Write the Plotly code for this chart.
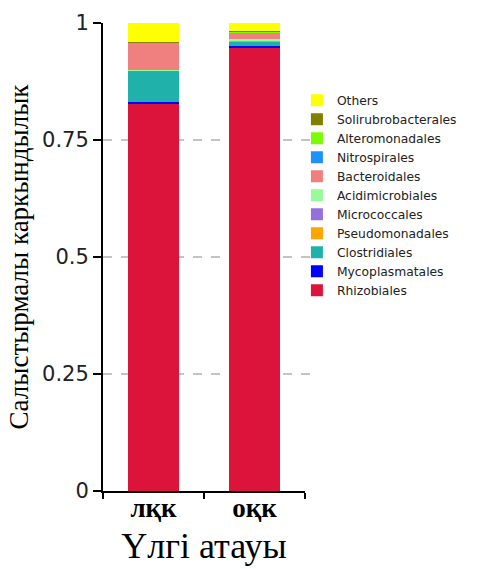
import plotly.graph_objects as go

samples = ["лқк", "оқк"]
orders = ["Rhizobiales", "Mycoplasmatales", "Clostridiales", "Pseudomonadales",
          "Micrococcales", "Acidimicrobiales", "Bacteroidales", "Nitrospirales",
          "Alteromonadales", "Solirubrobacterales", "Others"]
rhizobiales = [0.829, 0.948]
mycoplasmatales = [0.003, 0.003]
clostridiales = [0.066, 0.009]
pseudomonadales = [0.001, 0.002]
micrococcales = [0.0005, 0.001]
acidimicrobiales = [0.0005, 0.003]
bacteroidales = [0.058, 0.013]
nitrospirales = [0.0005, 0.001]
alteromonadales = [0.0005, 0.001]
solirubrobacterales = [0.0005, 0.002]
others = [0.040, 0.017]
values = [rhizobiales, mycoplasmatales, clostridiales, pseudomonadales, micrococcales,
          acidimicrobiales, bacteroidales, nitrospirales, alteromonadales,
          solirubrobacterales, others]
colors = ["#DC143C", "#0000FF", "#20B2AA", "#FFA500", "#9370DB", "#98FB98",
          "#F08080", "#1E90FF", "#7CFC00", "#808000", "#FFFF00"]
y_ticks = [0, 0.25, 0.5, 0.75, 1]
y_labels = ["0", "0.25", "0.5", "0.75", "1"]

fig = go.Figure()
for name, vals, col in zip(orders, values, colors):
    fig.add_trace(go.Bar(x=samples, y=vals, name=name, marker_color=col,
                         marker_line_width=0, width=0.51))

for g in [0.25, 0.5, 0.75]:
    fig.add_shape(type="line", xref="paper", yref="y", x0=0, x1=1.04, y0=g, y1=g,
                  line=dict(color="#888888", width=1, dash="dash"), layer="below")

fig.update_layout(
    width=481, height=569,
    margin=dict(l=103, r=176, t=23, b=78, autoexpand=False),
    barmode="stack", bargap=0.49,
    plot_bgcolor="white", paper_bgcolor="white",
    showlegend=True,
    legend=dict(x=0.96, xanchor="left", y=0.866, yanchor="top", traceorder="reversed",
                font=dict(family="DejaVu Sans", size=12.3, color="#222222"),
                itemwidth=30, tracegroupgap=0, bgcolor="rgba(0,0,0,0)"),
    xaxis=dict(range=[-0.5, 1.5], showline=True, linecolor="black", linewidth=2,
               automargin=False,
               ticks="outside", tickson="boundaries", ticklen=6, tickwidth=2,
               tickcolor="black", ticklabelstandoff=-8,
               tickfont=dict(family="Liberation Serif", size=27, color="black", weight="bold"),
               title=dict(text="Үлгі атауы", font=dict(family="Liberation Serif", size=36, color="black"),
                          standoff=10)),
    yaxis=dict(range=[0, 1], showline=True, linecolor="black", linewidth=2,
               automargin=False,
               showgrid=False, zeroline=False,
               ticks="outside", ticklen=8, tickwidth=2, tickcolor="black",
               tickvals=y_ticks, ticktext=y_labels,
               tickfont=dict(family="DejaVu Sans", size=21, color="#222222"),
               title=dict(text="Салыстырмалы каркындылык",
                          font=dict(family="Liberation Serif", size=27, color="black"),
                          standoff=6)),
)

fig.write_html("out.html", config={"displayModeBar": False},
               post_script="document.body.style.margin='0';document.body.style.overflow='hidden';")
